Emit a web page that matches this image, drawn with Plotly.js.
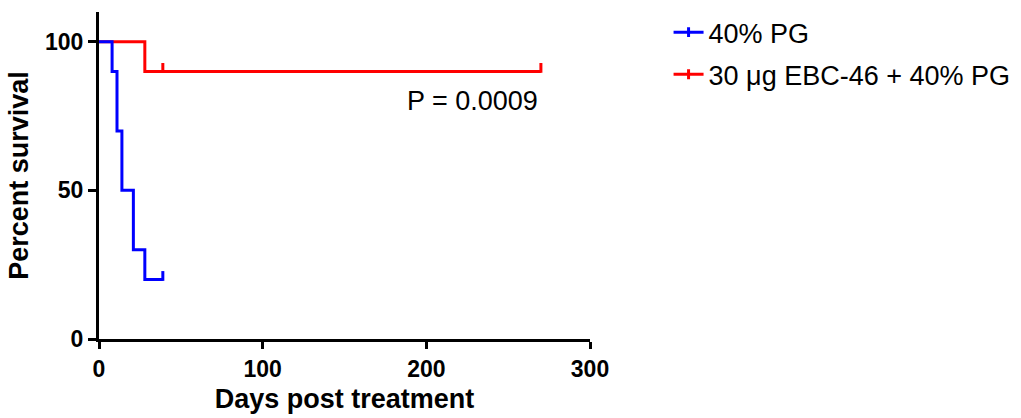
<!DOCTYPE html>
<html>
<head>
<meta charset="utf-8">
<script src="https://cdn.plot.ly/plotly-3.0.1.min.js"></script>
<style>html,body{margin:0;padding:0;background:#fff;}#chart{width:1021px;height:418px;}</style>
</head>
<body>
<div id="chart"></div>
<script>
// Kaplan–Meier step data (days, percent survival)
var seriesNames = ["40% PG", "30 \u03bcg EBC-46 + 40% PG"];
var seriesColors = ["#0000ff", "#ff0000"];
var pgDays = [0, 8, 11, 14, 21, 28, 39];
var pgSurvival = [100, 90, 70, 50, 30, 20, 20];
var ebcDays = [0, 28, 270];
var ebcSurvival = [100, 90, 90];
// censored observations
var pgCensorDays = [39];
var pgCensorSurvival = [20];
var ebcCensorDays = [39, 270];
var ebcCensorSurvival = [90, 90];
var xTicks = [0, 100, 200, 300];
var yTicks = [0, 50, 100];
var pValueText = "P = 0.0009";

var FONT = "Liberation Sans, Arial, sans-serif";
var tickLift = 1.2; // censor tick drawn just above the curve

function stepTrace(x, y, color) {
  return {x: x, y: y, mode: "lines", type: "scatter", line: {shape: "hv", color: color, width: 3},
          showlegend: false, hoverinfo: "skip"};
}
function censorTrace(x, y, color) {
  return {x: x, y: y.map(function (v) { return v + tickLift; }), mode: "markers", type: "scatter",
          marker: {symbol: "line-ns", size: 7, line: {color: color, width: 3}},
          showlegend: false, hoverinfo: "skip", cliponaxis: false};
}
function legendTrace(name, color, rank, group) {
  return {x: [null], y: [null], name: name, mode: "lines+markers", type: "scatter",
          line: {color: color, width: 3}, marker: {symbol: "line-ns", size: 7, line: {color: color, width: 3}},
          legendrank: rank, legendgroup: group};
}

var data = [
  stepTrace(ebcDays, ebcSurvival, seriesColors[1]),
  censorTrace(ebcCensorDays, ebcCensorSurvival, seriesColors[1]),
  stepTrace(pgDays, pgSurvival, seriesColors[0]),
  censorTrace(pgCensorDays, pgCensorSurvival, seriesColors[0]),
  legendTrace(seriesNames[0], seriesColors[0], 1, "a"),
  legendTrace(seriesNames[1], seriesColors[1], 2, "b")
];

var layout = {
  width: 1021, height: 418,
  margin: {l: 99, r: 431, t: 12, b: 79, autoexpand: false},
  paper_bgcolor: "#fff", plot_bgcolor: "#fff",
  font: {family: FONT, color: "#000"},
  xaxis: {
    range: [0, 300], tickvals: xTicks, ticktext: xTicks.map(String),
    showgrid: false, zeroline: false, showline: true, linecolor: "#000", linewidth: 3,
    ticks: "outside", ticklen: 7, tickwidth: 3, tickcolor: "#000",
    tickfont: {family: FONT, size: 23, weight: "bold"},
    title: {text: "<b>Days post treatment</b>", font: {family: FONT, size: 27}, standoff: 9}
  },
  yaxis: {
    range: [0, 110], tickvals: yTicks, ticktext: yTicks.map(String),
    showgrid: false, zeroline: false, showline: true, linecolor: "#000", linewidth: 3,
    ticks: "outside", ticklen: 8, tickwidth: 3, tickcolor: "#000",
    tickfont: {family: FONT, size: 23, weight: "bold"},
    title: {text: "<b>Percent survival</b>", font: {family: FONT, size: 27}, standoff: 9}
  },
  showlegend: true,
  legend: {x: 1.16, y: 1.012, xanchor: "left", yanchor: "top", bgcolor: "rgba(0,0,0,0)",
           font: {family: FONT, size: 27}, traceorder: "grouped", tracegroupgap: 4},
  annotations: [
    {text: pValueText, xref: "x", yref: "y", x: 228.5, y: 80, showarrow: false,
     font: {family: FONT, size: 27, color: "#000"}}
  ]
};

Plotly.newPlot("chart", data, layout, {staticPlot: true, displayModeBar: false});
</script>
</body>
</html>
